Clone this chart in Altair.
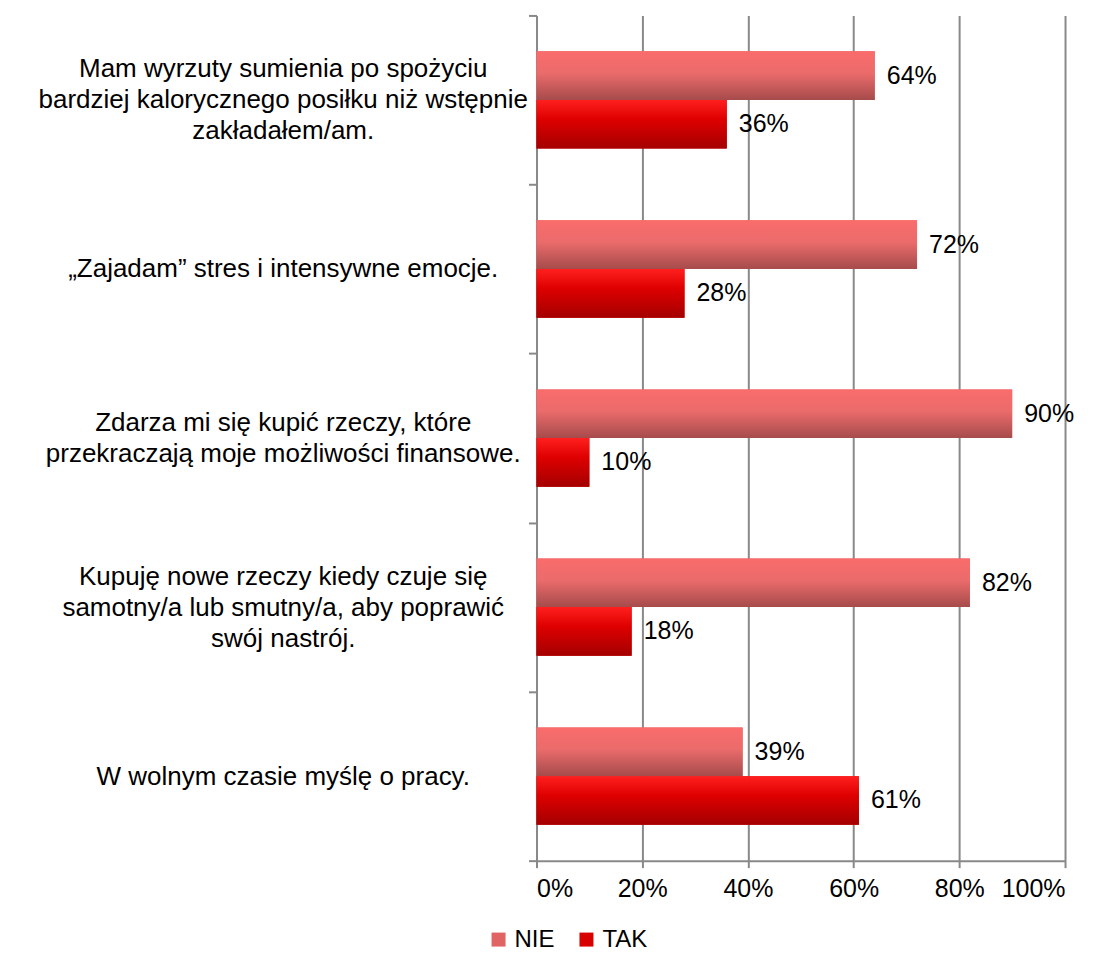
import altair as alt
import pandas as pd

categories = [
    "Mam wyrzuty sumienia po spożyciu\nbardziej kalorycznego posiłku niż wstępnie\nzakładałem/am.",
    "„Zajadam” stres i intensywne emocje.",
    "Zdarza mi się kupić rzeczy, które\nprzekraczają moje możliwości finansowe.",
    "Kupuję nowe rzeczy kiedy czuje się\nsamotny/a lub smutny/a, aby poprawić\nswój nastrój.",
    "W wolnym czasie myślę o pracy.",
]
series_names = ["NIE", "TAK"]
nie_values = [64, 72, 90, 82, 39]
tak_values = [36, 28, 10, 18, 61]
x_ticks = [0, 20, 40, 60, 80, 100]

rows = []
for c, n, t in zip(categories, nie_values, tak_values):
    rows.append({"category": c, "series": "NIE", "value": n, "label": f"{n}%"})
    rows.append({"category": c, "series": "TAK", "value": t, "label": f"{t}%"})
df = pd.DataFrame(rows)

FONT = "Liberation Sans"
GRID = "#898989"
LINE_H = 31

three = "length(split(datum.value, '\\n')) == 3"
two = "length(split(datum.value, '\\n')) == 2"

x_enc = alt.X(
    "value:Q",
    scale=alt.Scale(domain=[0, 100], nice=False),
    axis=alt.Axis(
        values=x_ticks,
        labelExpr="datum.value + '%'",
        title=None,
        grid=True,
        gridColor=GRID,
        gridWidth=2,
        domainColor=GRID,
        domainWidth=2,
        tickColor=GRID,
        tickWidth=2,
        tickSize=7,
        labelFontSize=25,
        labelFont=FONT,
        labelColor="black",
        labelPadding=9,
    ),
)
y_enc = alt.Y(
    "category:N",
    sort=categories,
    scale=alt.Scale(paddingInner=0, paddingOuter=0),
    axis=alt.Axis(
        title=None,
        labelExpr="split(datum.label, '\\n')",
        labelAlign="center",
        labelBaseline="middle",
        labelPadding=246,
        labelOffset={
            "condition": [
                {"test": three, "value": -LINE_H},
                {"test": two, "value": -LINE_H / 2},
            ],
            "value": 0,
        },
        labelFontSize=26,
        labelLineHeight=LINE_H,
        labelFont=FONT,
        labelColor="black",
        labelLimit=0,
        tickBand="extent",
        tickSize=8,
        tickColor=GRID,
        tickWidth=2,
        domainColor=GRID,
        domainWidth=2,
        grid=False,
    ),
)
yoff_enc = alt.YOffset(
    "series:N", sort=series_names, scale=alt.Scale(paddingInner=0, paddingOuter=0.738)
)

base = alt.Chart(df)

solid = base.mark_bar().encode(
    x=x_enc,
    y=y_enc,
    yOffset=yoff_enc,
    color=alt.Color(
        "series:N",
        scale=alt.Scale(domain=series_names, range=["#E06464", "#D80000"]),
        legend=alt.Legend(
            title=None,
            orient="none",
            legendX=-50,
            legendY=913,
            direction="horizontal",
            symbolType="square",
            symbolSize=196,
            symbolStrokeWidth=0,
            labelFontSize=24,
            labelFont=FONT,
            labelColor="black",
            columnPadding=19,
            labelOffset=4,
            padding=0,
        ),
    ),
)

nie_grad = alt.Gradient(
    gradient="linear", x1=0, y1=0, x2=0, y2=1,
    stops=[
        alt.GradientStop(color="#FA6C6C", offset=0),
        alt.GradientStop(color="#EB6B6B", offset=0.45),
        alt.GradientStop(color="#A64B4B", offset=1),
    ],
)
tak_grad = alt.Gradient(
    gradient="linear", x1=0, y1=0, x2=0, y2=1,
    stops=[
        alt.GradientStop(color="#FF1F1F", offset=0),
        alt.GradientStop(color="#DE0000", offset=0.4),
        alt.GradientStop(color="#A40000", offset=1),
    ],
)

y_plain = alt.Y("category:N", sort=categories)
yoff_plain = alt.YOffset("series:N", sort=series_names)

nie_bars = base.transform_filter("datum.series == 'NIE'").mark_bar(color=nie_grad).encode(
    x="value:Q", y=y_plain, yOffset=yoff_plain
)
tak_bars = base.transform_filter("datum.series == 'TAK'").mark_bar(color=tak_grad).encode(
    x="value:Q", y=y_plain, yOffset=yoff_plain
)

labels = base.mark_text(
    align="left", baseline="middle", dx=12, fontSize=25, font=FONT, color="black"
).encode(
    x="value:Q",
    y=y_plain,
    yOffset=yoff_plain,
    text="label:N",
)

chart = (
    alt.layer(solid, nie_bars, tak_bars, labels)
    .properties(
        width=529,
        height=846,
        autosize=alt.AutoSizeParams(type="none"),
        padding={"left": 529, "top": 7, "right": 28, "bottom": 90},
        background="white",
    )
    .configure_view(stroke=None)
)

chart.save("out.html", embed_options={"renderer": "svg", "actions": False})
